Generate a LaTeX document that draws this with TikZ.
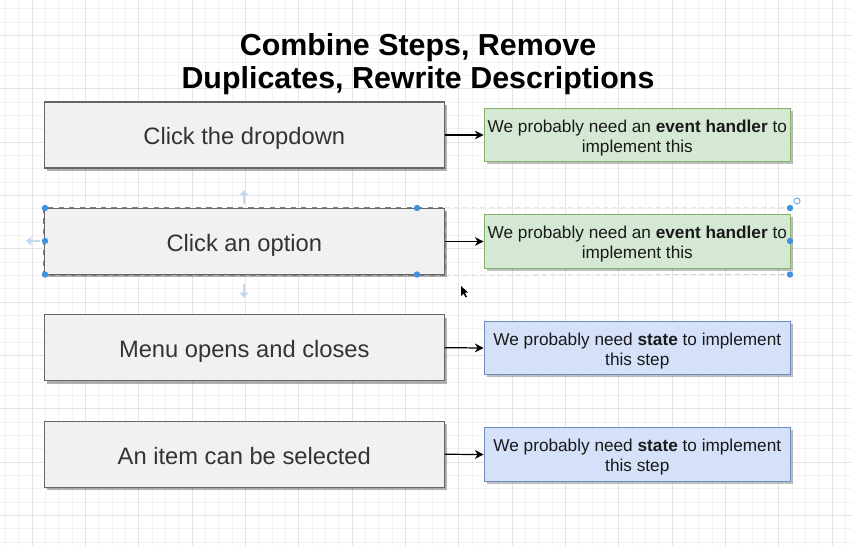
\documentclass[tikz,border=0pt]{standalone}
\usepackage{fontspec}
\setmainfont{Liberation Sans}
\usepackage{tikz}
\usetikzlibrary{arrows.meta,positioning,calc,shadows}
\definecolor{stepfill}{RGB}{241,241,241}
\definecolor{stepline}{RGB}{102,102,102}
\definecolor{greenfill}{RGB}{213,232,212}
\definecolor{greenline}{RGB}{130,179,102}
\definecolor{bluefill}{RGB}{212,225,248}
\definecolor{blueline}{RGB}{108,142,191}
\definecolor{gridminor}{RGB}{243,243,243}
\definecolor{gridmajor}{RGB}{228,228,228}
\definecolor{handle}{RGB}{66,145,224}
\definecolor{hint}{RGB}{196,217,240}
\newcommand{\hb}[1]{\textbf{#1}}

\begin{document}
\begin{tikzpicture}[x=0.02cm,y=-0.02cm,
  stepbox/.style={draw=stepline, fill=stepfill, line width=0.8pt,
    minimum width=8cm, minimum height=1.32cm, inner sep=0pt,
    text height=21.3pt, text depth=10pt,
    text=black!80, font=\fontsize{13.5}{16}\selectfont,
    drop shadow={shadow xshift=0.06cm, shadow yshift=-0.06cm, fill=black, opacity=0.3}},
  notebox/.style={line width=0.8pt, minimum width=6.12cm, minimum height=1.07cm,
    inner sep=0pt, align=center, text=black!90,
    text height=22pt, text depth=2.4pt,
    font=\fontsize{9.8}{11.3}\selectfont,
    drop shadow={shadow xshift=0.05cm, shadow yshift=-0.05cm, fill=black, opacity=0.25}},
  evnote/.style={notebox, draw=greenline, fill=greenfill},
  stnote/.style={notebox, draw=blueline, fill=bluefill},
  flow/.style={-{Stealth[length=5pt,width=5pt]}, line width=0.7pt, black}]
  \useasboundingbox (0,0) rectangle (852,546);
  \fill[white] (0,0) rectangle (852,546);
  % grid
  \foreach \i in {0,...,63}
    \draw[gridminor, line width=0.4pt] ({5.333+13.333*\i},0) -- ({5.333+13.333*\i},546);
  \foreach \j in {0,...,40}
    \draw[gridminor, line width=0.4pt] (0,{8.667+13.333*\j}) -- (852,{8.667+13.333*\j});
  \foreach \i in {0,...,15}
    \draw[gridmajor, line width=0.5pt] ({32+53.333*\i},0) -- ({32+53.333*\i},546);
  \foreach \j in {0,...,10}
    \draw[gridmajor, line width=0.5pt] (0,{35.333+53.333*\j}) -- (852,{35.333+53.333*\j});

  % title
  \node[anchor=north, inner sep=0pt, align=center,
    font=\fontsize{17.3}{18.7}\selectfont\bfseries] (title) at (418,33)
    {Combine Steps, Remove\\Duplicates, Rewrite Descriptions};

  % steps
  \node[stepbox] (s1) at (244.3,135) {Click the dropdown};
  \node[stepbox] (s2) at (244.3,241.5) {Click an option};
  \node[stepbox] (s3) at (244.3,347.7) {Menu opens and closes};
  \node[stepbox] (s4) at (244.3,454.3) {An item can be selected};

  % notes
  \node[evnote] (n1) at (637.3,135) {We probably need an \hb{event handler} to\\implement this};
  \node[evnote] (n2) at (637.3,241.5) {We probably need an \hb{event handler} to\\implement this};
  \node[stnote] (n3) at (637.3,348) {We probably need \hb{state} to implement\\this step};
  \node[stnote] (n4) at (637.3,454.5) {We probably need \hb{state} to implement\\this step};

  \foreach \k in {1,...,4}
    \draw[flow] (s\k.east) -- (n\k.west);

  % selection
  \draw[gray, dashed, line width=0.5pt] (s2.north west) rectangle (s2.south east);
  \coordinate (gtop) at (790,208);
  \coordinate (gbot) at (790,274.5);
  \draw[black!25, densely dashed, line width=0.3pt] (s2.north east) -- (gtop);
  \draw[black!25, densely dashed, line width=0.3pt] (s2.south east) -- (gbot);
  \foreach \p in {(45,208),(417,208),(45,241),(45,274.5),(417,274.5),(790,208),(790,241),(790,274.5)}
    \fill[handle] \p circle (3.2);
  \draw[handle!70, line width=0.6pt] (797,201) circle (3);
  \draw[hint, line width=1.4pt, -{Triangle[length=3pt,width=5pt]}] (244,204) -- (244,190);
  \draw[hint, line width=1.4pt, -{Triangle[length=3pt,width=5pt]}] (244,284) -- (244,298);
  \draw[hint, line width=1.4pt, -{Triangle[length=3pt,width=5pt]}] (40,241) -- (26,241);
  \fill[black] (461,286) -- (461,296) -- (463.5,293.5) -- (465.5,297.5) -- (467,296.8) -- (465,292.8) -- (468,292.5) -- cycle;
\end{tikzpicture}
\end{document}
